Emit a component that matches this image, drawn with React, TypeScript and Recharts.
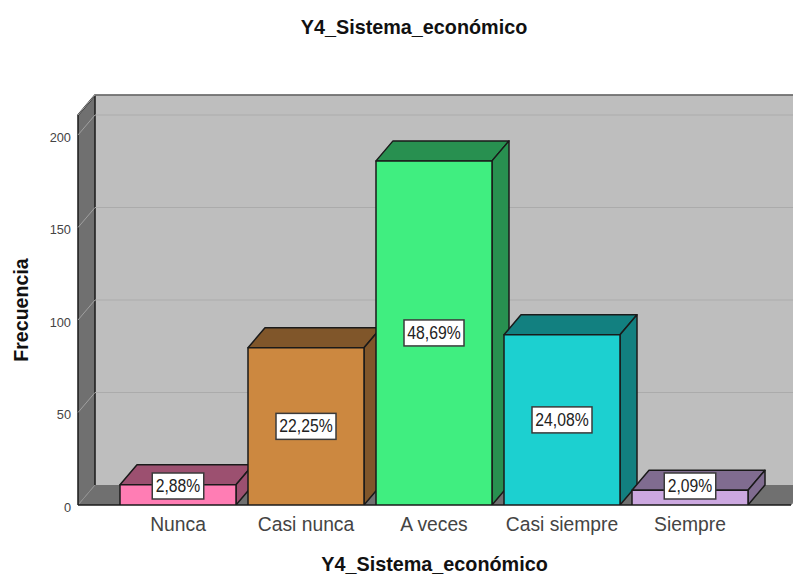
import React from 'react';
import {
  BarChart,
  Bar,
  XAxis,
  YAxis,
  CartesianGrid,
  ReferenceArea,
  LabelList,
} from 'recharts';

const categories = ['Nunca', 'Casi nunca', 'A veces', 'Casi siempre', 'Siempre'];
const frequencies = [11, 85, 186, 92, 8];
const percentLabels = ['2,88%', '22,25%', '48,69%', '24,08%', '2,09%'];
const yTicks = [0, 50, 100, 150, 200];
const yMax = 210.8;

const frontColors = ['#FF7DB4', '#CC8840', '#40EE80', '#1CD0D0', '#CCA8E0'];
const depthColors = ['#9C5070', '#80562A', '#289050', '#128080', '#806C90'];

const data = categories.map((name, i) => ({
  name,
  value: frequencies[i],
  pct: percentLabels[i],
}));

const FONT = '"Liberation Sans", Arial, sans-serif';
const DX = 17;
const DY = 20;
const PAD_LEFT = 36;
const PAD_RIGHT = 37;
const OUTLINE = '#1a1a1a';

// back wall, left wall and floor of the 3D box
const Walls = (props: any) => {
  const { y, height } = props;
  // the area starts after the axis padding, the box does not
  const x = props.x - PAD_LEFT;
  const right = props.x + props.width + PAD_RIGHT;
  const width = right - x;
  const bottom = y + height;
  return (
    <g>
      <rect x={x + DX} y={y - DY} width={width + DX} height={height} fill="#BEBEBE" />
      <polygon
        points={`${x},${y} ${x + DX},${y - DY} ${x + DX},${bottom - DY} ${x},${bottom}`}
        fill="#707070"
      />
      <polygon
        points={`${x},${bottom} ${x + DX},${bottom - DY} ${right + DX},${bottom - DY} ${right},${bottom}`}
        fill="#707070"
      />
      <line x1={x} y1={bottom} x2={x + DX} y2={bottom - DY} stroke="#909090" strokeWidth={1} />
      <line x1={right} y1={bottom} x2={right + DX} y2={bottom - DY} stroke="#909090" strokeWidth={1} />
      <path
        d={`M${x},${bottom} L${x},${y} L${x + DX},${y - DY} L${right + DX},${y - DY} M${x + DX},${y - DY} L${x + DX},${bottom - DY}`}
        fill="none"
        stroke={OUTLINE}
        strokeWidth={1.5}
      />
      <line x1={x} y1={bottom} x2={right} y2={bottom} stroke={OUTLINE} strokeWidth={1.5} />
    </g>
  );
};

const gridLine = (props: any) => {
  const { x1, y1, x2, y2 } = props;
  if (Math.abs(y1 - 505) < 1) return <g key="floor" />;
  return (
    <g key={`grid-${y1}`}>
      <line x1={x1} y1={y1} x2={x1 + DX} y2={y1 - DY} stroke="#A0A0A0" strokeWidth={1} />
      <line x1={x1 + DX} y1={y1 - DY} x2={x2 + DX} y2={y2 - DY} stroke="#ABABAB" strokeWidth={1.2} />
    </g>
  );
};

const Bar3D = (props: any) => {
  const { x, y, width, height, index } = props;
  const r = x + width;
  const b = y + height;
  const edge = { stroke: OUTLINE, strokeWidth: 1.5, strokeLinejoin: 'round' as const };
  return (
    <g>
      <polygon
        points={`${x},${y} ${x + DX},${y - DY} ${r + DX},${y - DY} ${r},${y}`}
        fill={depthColors[index]}
        {...edge}
      />
      <polygon
        points={`${r},${y} ${r + DX},${y - DY} ${r + DX},${b - DY} ${r},${b}`}
        fill={depthColors[index]}
        {...edge}
      />
      <rect x={x} y={y} width={width} height={height} fill={frontColors[index]} {...edge} />
    </g>
  );
};

const PercentBox = (props: any) => {
  const { x, y, width, height, value } = props;
  const cx = x + width / 2;
  const bottom = y + height;
  // short bars push the box up so it stays above the baseline
  const cy = Math.min(y + height / 2, bottom - 19);
  const chars = String(value).length;
  const w = chars * 8.5 + 9;
  return (
    <g>
      <rect x={cx - w / 2} y={cy - 13} width={w} height={26} fill="#fff" stroke="#3a3a3a" strokeWidth={1.5} />
      <text
        x={cx}
        y={cy + 6}
        textAnchor="middle"
        fontFamily={FONT}
        fontSize={17.5}
        fill="#222"
        textLength={chars * 8.9}
        lengthAdjust="spacingAndGlyphs"
      >
        {value}
      </text>
    </g>
  );
};

export default function App() {
  return (
    <div style={{ position: 'absolute', left: 0, top: 0, width: 793, height: 575, background: '#fff', overflow: 'hidden' }}>
      <BarChart
        width={793}
        height={575}
        data={data}
        margin={{ top: 115, right: 2, left: 0, bottom: 0 }}
        barSize={116}
      >
        <text
          x={414}
          y={34}
          textAnchor="middle"
          fontFamily={FONT}
          fontWeight="bold"
          fontSize={19.8}
          fill="#111"
        >
          Y4_Sistema_económico
        </text>
        <ReferenceArea y1={0} y2={yMax} shape={<Walls />} zIndex={-200} />
        <CartesianGrid vertical={false} horizontal={gridLine} />
        <XAxis
          dataKey="name"
          height={70}
          padding={{ left: PAD_LEFT, right: PAD_RIGHT }}
          axisLine={false}
          tickLine={false}
          interval={0}
          tickMargin={6}
          tick={{ fontFamily: FONT, fontSize: 19.3, fill: '#444' }}
          label={{
            value: 'Y4_Sistema_económico',
            position: 'insideBottom',
            offset: 4,
            style: { fontFamily: FONT, fontWeight: 'bold', fontSize: 19.8, fill: '#111' },
          }}
        />
        <YAxis
          width={78}
          domain={[0, yMax]}
          ticks={yTicks}
          allowDataOverflow
          axisLine={false}
          tickLine={false}
          tickSize={0}
          tickMargin={7}
          tick={{ fontFamily: FONT, fontSize: 12.8, fill: '#444', dy: 2 }}
          label={{
            value: 'Frecuencia',
            angle: -90,
            position: 'insideLeft',
            offset: 21,
            style: { fontFamily: FONT, fontWeight: 'bold', fontSize: 19.6, fill: '#111', textAnchor: 'middle' },
          }}
        />
        <Bar dataKey="value" isAnimationActive={false} shape={<Bar3D />}>
          <LabelList dataKey="pct" content={<PercentBox />} />
        </Bar>
      </BarChart>
    </div>
  );
}
